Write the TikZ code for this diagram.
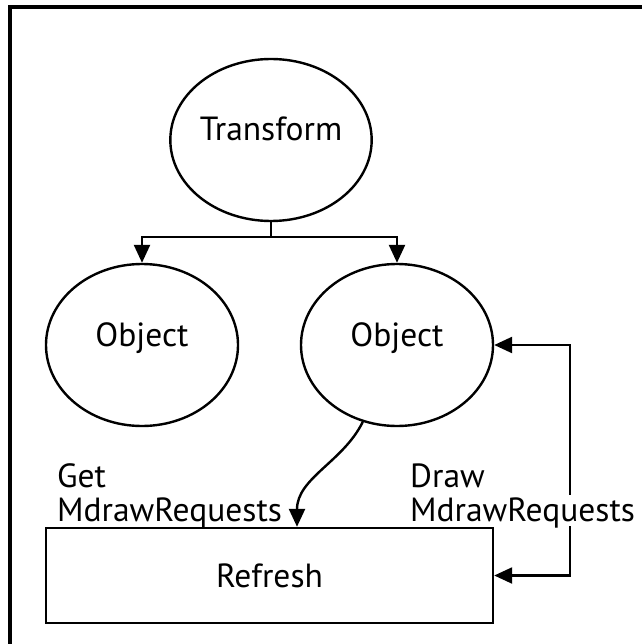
\documentclass[tikz,border=0pt]{standalone}
\usepackage{fontspec}
\setmainfont{PT Sans}
\usetikzlibrary{arrows.meta,shapes.geometric}

\begin{document}
\begin{tikzpicture}[x=1pt,y=-1pt]
            \tikzset{proc/.style = {shape=ellipse,draw,line width=2.4pt,minimum width=192pt,minimum height=162pt,inner sep=0pt,text height=24pt,text depth=22pt,font=\fontsize{33.5}{40}\selectfont}}
            \tikzset{store/.style = {shape=rectangle,draw,line width=2.4pt,minimum width=447pt,minimum height=95pt,font=\fontsize{33.5}{40}\selectfont}}
            \tikzset{lbl/.style = {anchor=base west,inner sep=0pt,font=\fontsize{33.5}{40}\selectfont}}
            \tikzset{edge/.style = {->,> = {Triangle[length=18pt,width=16pt]},line width=2.4pt}}
            \useasboundingbox (0,0) rectangle (642,644);
            \draw[line width=4pt] (10,644) -- (10,7) -- (642,7);

            \node[proc] (tr) at (271,140) {Transform};
            \node[proc] (ob1) at (142,345) {Object};
            \node[proc] (ob2) at (397,345) {Object};
            \node[store] (rf) at (269.5,575.5) {Refresh};
            \coordinate (split) at (271,237);

            \draw[line width=2.4pt] (tr.south) -- (split);
            \draw[edge] (split) -| (ob1.north);
            \draw[edge] (split) -| (ob2.north);
            \draw[edge] (ob2.246) .. controls (343,462) and (297,478) .. ([xshift=27.5pt]rf.north);
            \draw[edge,<->] (ob2.east) -- ++(76,0) |- (rf.east);

            \node[lbl] (get) at (57,487) {Get};
            \node[lbl] (getreq) at (57,521) {MdrawRequests};
            \node[lbl] (draw) at (410,487) {Draw};
            \node[lbl,fill=white,inner xsep=4pt,inner ysep=2pt,text depth=3pt] (drawreq) at (406,521) {MdrawRequests};
        \end{tikzpicture}
\end{document}
